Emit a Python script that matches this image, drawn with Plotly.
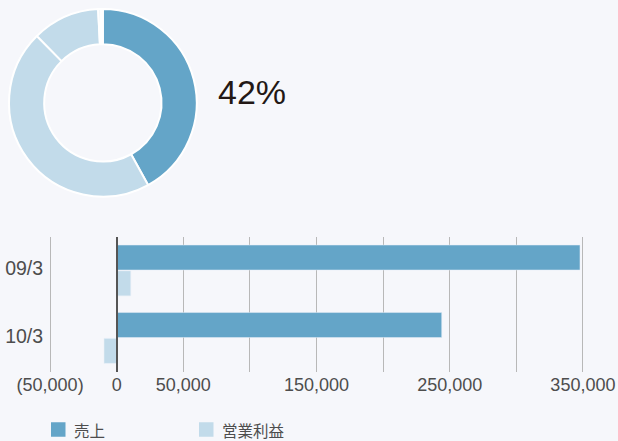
import plotly.graph_objects as go

# ---- data ----
periods = ["09/3", "10/3"]
sales = [347800, 244000]          # 売上
op_income = [10500, -9500]        # 営業利益
series_names = ["売上", "営業利益"]

donut_values = [42.0, 45.6, 11.6, 0.4, 0.4]
donut_label = "42%"

tick_vals = [-50000, 0, 50000, 100000, 150000, 200000, 250000, 300000, 350000]
tick_text = ["(50,000)", "0", "50,000", "", "150,000", "", "250,000", "", "350,000"]

# ---- style ----
W, H = 618, 441
DARK = "#64a5c8"
LIGHT = "#c2dbea"
BG = "#f6f7fb"
GRID = "#b8b8b8"
TXT = "#4d4d4d"
LATIN = "Liberation Sans, Arial, sans-serif"
CJK = "Noto Sans CJK JP, sans-serif"
series_colors = [DARK, LIGHT]

fig = go.Figure()

fig.add_trace(go.Pie(
    values=donut_values,
    marker=dict(colors=[DARK, LIGHT, LIGHT, LIGHT, "#ffffff"],
                line=dict(color="#ffffff", width=2)),
    hole=0.625,
    sort=False,
    direction="clockwise",
    rotation=0,
    textinfo="none",
    hoverinfo="skip",
    showlegend=False,
    domain=dict(x=[9 / W, 196.7 / W], y=[1 - 196.7 / H, 1 - 9 / H]),
))

for name, vals, col in zip(series_names, [sales, op_income], series_colors):
    fig.add_trace(go.Bar(
        y=periods, x=vals, orientation="h", name=name,
        marker=dict(color=col), showlegend=False,
    ))

fig.add_annotation(
    text=donut_label, xref="paper", yref="paper",
    x=216 / W, y=1 - 92 / H, xanchor="left", yanchor="middle",
    showarrow=False, font=dict(family=LATIN, size=34, color="#231815"),
)

# legend drawn as swatches + text
legend_left = [51, 199]
legend_cy = 429.5
sw = 14.5
for lx, name, col in zip(legend_left, series_names, series_colors):
    fig.add_shape(type="rect", xref="paper", yref="paper",
                  x0=lx / W, x1=(lx + sw) / W,
                  y0=1 - (legend_cy + sw / 2) / H, y1=1 - (legend_cy - sw / 2) / H,
                  fillcolor=col, line=dict(width=0))
    fig.add_annotation(text=name, xref="paper", yref="paper",
                       x=(lx + sw + 6.5) / W, y=1 - legend_cy / H,
                       xanchor="left", yanchor="middle", showarrow=False,
                       font=dict(family=CJK, size=15.5, color=TXT))

fig.update_layout(
    width=W, height=H,
    margin=dict(l=0, r=0, t=0, b=0, autoexpand=False),
    paper_bgcolor=BG, plot_bgcolor=BG,
    barmode="group", bargap=0.234, bargroupgap=0.035,
    xaxis=dict(
        domain=[48.1 / W, 584.9 / W],
        range=[-51500, 351500],
        tickvals=tick_vals, ticktext=tick_text,
        showgrid=True, gridcolor=GRID, gridwidth=1,
        zeroline=True, zerolinecolor="#555555", zerolinewidth=1.5,
        showline=False, ticks="", automargin=False,
        tickfont=dict(family=LATIN, size=18, color=TXT),
        fixedrange=True,
    ),
    yaxis=dict(
        domain=[1 - 371.7 / H, 1 - 236.7 / H],
        type="category", categoryorder="array", categoryarray=periods,
        autorange="reversed", automargin=False,
        showgrid=False, zeroline=False, showline=False, ticks="",
        ticklabelstandoff=4,
        tickfont=dict(family=LATIN, size=19.5, color=TXT),
        fixedrange=True,
    ),
    showlegend=False,
)
try:
    fig.update_xaxes(zerolinelayer="above traces")
except Exception:
    pass
try:
    fig.update_yaxes(ticklabelshift=2)
except Exception:
    pass

fig.write_html("out.html", config={"displayModeBar": False})
